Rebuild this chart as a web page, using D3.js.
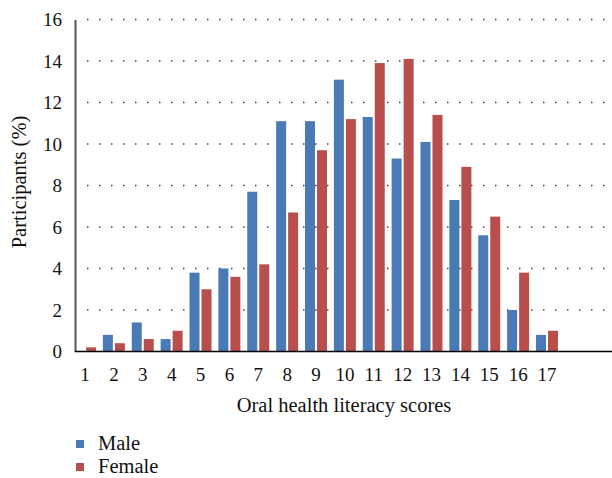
<!DOCTYPE html>
<html>
<head>
<meta charset="utf-8">
<script src="https://cdn.jsdelivr.net/npm/d3@7"></script>
<style>
  body { margin: 0; background: #fff; }
  svg text { font-family: "Liberation Serif", "DejaVu Serif", serif; fill: #111; }
</style>
</head>
<body>
<svg class="chart"></svg>
<script>
// Chart data
const scores = [1, 2, 3, 4, 5, 6, 7, 8, 9, 10, 11, 12, 13, 14, 15, 16, 17];
const male = [0, 0.8, 1.4, 0.6, 3.8, 4.0, 7.7, 11.1, 11.1, 13.1, 11.3, 9.3, 10.1, 7.3, 5.6, 2.0, 0.8];
const female = [0.2, 0.4, 0.6, 1.0, 3.0, 3.6, 4.2, 6.7, 9.7, 11.2, 13.9, 14.1, 11.4, 8.9, 6.5, 3.8, 1.0];
const yTicks = [0, 2, 4, 6, 8, 10, 12, 14, 16];
const seriesNames = ['Male', 'Female'];
const seriesColors = ['#4a7ab5', '#b94f4c'];

const svgWidth = 612;
const svgHeight = 478;
const plotLeft = 75;
const plotRight = 612;
const plotTop = 19.5;
const plotBottom = 351.5;

const svg = d3.select('.chart')
  .attr('width', svgWidth)
  .attr('height', svgHeight);

// Scales
const xScale = d3.scaleLinear()
  .domain([1, 17])
  .range([85, 547]);

const yScale = d3.scaleLinear()
  .domain([0, 16])
  .range([plotBottom, plotTop]);

const barWidth = 10;
const barGap = 2;

// Dotted gridlines
svg.append('g')
  .selectAll('line')
  .data(yTicks.filter(d => d > 0))
  .enter()
  .append('line')
  .attr('x1', 87)
  .attr('x2', plotRight)
  .attr('y1', d => yScale(d))
  .attr('y2', d => yScale(d))
  .attr('stroke', '#444')
  .attr('stroke-width', 1.5)
  .attr('stroke-dasharray', '1.5 10.5');

// Bars
const pairs = scores.map((s, i) => ({ score: s, values: [male[i], female[i]] }));

seriesNames.forEach((name, k) => {
  svg.append('g')
    .selectAll('rect')
    .data(pairs)
    .enter()
    .append('rect')
    .attr('x', d => k === 0 ? xScale(d.score) - barGap / 2 - barWidth : xScale(d.score) + barGap / 2)
    .attr('y', d => yScale(d.values[k]))
    .attr('width', barWidth)
    .attr('height', d => plotBottom - yScale(d.values[k]))
    .attr('fill', seriesColors[k]);
});

// Y axis
const yAxis = svg.append('g')
  .attr('transform', 'translate(' + plotLeft + ',0)')
  .call(d3.axisLeft(yScale).tickValues(yTicks).tickSize(0).tickPadding(13));

yAxis.select('.domain').attr('stroke', '#555').attr('stroke-width', 2);
yAxis.selectAll('text')
  .attr('font-size', '19px')
  .attr('font-family', '"Liberation Serif", serif')
  .attr('fill', '#111');

// X axis line
svg.append('line')
  .attr('x1', plotLeft)
  .attr('x2', plotRight)
  .attr('y1', plotBottom)
  .attr('y2', plotBottom)
  .attr('stroke', '#000')
  .attr('stroke-width', 1.5);

// X tick labels
svg.append('g')
  .selectAll('text')
  .data(scores)
  .enter()
  .append('text')
  .attr('x', d => xScale(d))
  .attr('y', 381)
  .attr('text-anchor', 'middle')
  .attr('font-size', '19px')
  .text(d => d);

// Axis titles
svg.append('text')
  .attr('x', 344)
  .attr('y', 412)
  .attr('text-anchor', 'middle')
  .attr('font-size', '20.5px')
  .text('Oral health literacy scores');

svg.append('text')
  .attr('transform', 'rotate(-90)')
  .attr('x', -182)
  .attr('y', 26)
  .attr('text-anchor', 'middle')
  .attr('font-size', '20.5px')
  .text('Participants (%)');

// Legend
const legend = svg.append('g')
  .selectAll('g')
  .data(seriesNames)
  .enter()
  .append('g')
  .attr('transform', (d, i) => 'translate(76,' + (440 + i * 23) + ')');

legend.append('rect')
  .attr('width', 8)
  .attr('height', 8)
  .attr('fill', (d, i) => seriesColors[i]);

legend.append('text')
  .attr('x', 22)
  .attr('y', 10)
  .attr('font-size', '20.5px')
  .text(d => d);
</script>
</body>
</html>
